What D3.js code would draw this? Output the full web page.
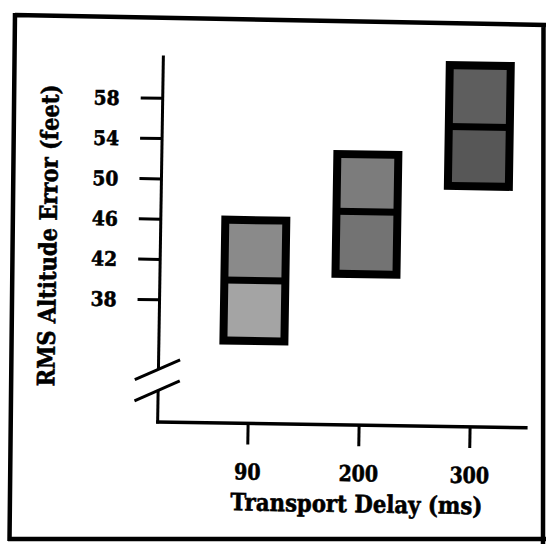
<!DOCTYPE html>
<html>
<head>
<meta charset="utf-8">
<script src="https://cdn.jsdelivr.net/npm/d3@7"></script>
<style>
  html, body { margin: 0; padding: 0; background: #fff; }
  svg { display: block; }
</style>
</head>
<body>
<svg id="chart" width="546" height="544"></svg>
<script>
// ---- data ----
const delays = ["90", "200", "300"];
const boxLow = [34.0, 40.8, 49.7];
const boxMid = [40.0, 47.0, 55.6];
const boxHigh = [46.0, 52.7, 61.7];
const yTicks = [38, 42, 46, 50, 54, 58];
const yAxisExtent = [25.8, 62.2];
const yBreak = [28.9, 31.0];
const xTitle = "Transport Delay (ms)";
const yTitle = "RMS Altitude Error (feet)";

// ---- styles ----
const upperShade = ["#8a8a8a", "#7c7c7c", "#5e5e5e"];
const lowerShade = ["#a4a4a4", "#737373", "#575757"];
const serif = "'DejaVu Serif', 'Liberation Serif', serif";

const svg = d3.select("#chart");

// scanned frame (slightly skewed)
svg.append("path")
  .attr("d", "M15,15 L546,25 M15,13 L9.5,541 M8,539 L546,539 M543.5,24 L543,544")
  .attr("fill", "none").attr("stroke", "#000").attr("stroke-width", 4.5);

const g = svg.append("g").attr("transform", "rotate(0.9 273 272)");

const y = d3.scaleLinear().domain([38, 58]).range([301, 99.6]);
const x = d3.scalePoint().domain(delays).range([250, 472]);
const axisX = 160;
const boxShift = 5;
const boxW = 61;

function heavy(sel, size) {
  sel.attr("fill", "#000").attr("stroke", "#000").attr("stroke-width", 0.6)
    .style("font-family", serif).style("font-weight", "bold").style("font-size", size + "px");
}

// boxes
const data = delays.map((d, i) => ({ d, lo: boxLow[i], mid: boxMid[i], hi: boxHigh[i], i }));
const boxes = g.selectAll("g.box").data(data).enter().append("g").attr("class", "box");
boxes.append("rect")
  .attr("x", d => x(d.d) + boxShift - boxW / 2).attr("width", boxW)
  .attr("y", d => y(d.hi)).attr("height", d => y(d.mid) - y(d.hi))
  .attr("fill", d => upperShade[d.i]);
boxes.append("rect")
  .attr("x", d => x(d.d) + boxShift - boxW / 2).attr("width", boxW)
  .attr("y", d => y(d.mid)).attr("height", d => y(d.lo) - y(d.mid))
  .attr("fill", d => lowerShade[d.i]);
boxes.append("rect")
  .attr("x", d => x(d.d) + boxShift - boxW / 2).attr("width", boxW)
  .attr("y", d => y(d.hi)).attr("height", d => y(d.lo) - y(d.hi))
  .attr("fill", "none").attr("stroke", "#000").attr("stroke-width", 8);
boxes.append("line")
  .attr("x1", d => x(d.d) + boxShift - boxW / 2).attr("x2", d => x(d.d) + boxShift + boxW / 2)
  .attr("y1", d => y(d.mid)).attr("y2", d => y(d.mid))
  .attr("stroke", "#000").attr("stroke-width", 7);

// y axis with break
g.append("line").attr("x1", axisX).attr("x2", axisX)
  .attr("y1", y(yAxisExtent[1])).attr("y2", y(yBreak[1]))
  .attr("stroke", "#000").attr("stroke-width", 3);
g.append("line").attr("x1", axisX).attr("x2", axisX)
  .attr("y1", y(yBreak[0])).attr("y2", y(yAxisExtent[0]) + 1.5)
  .attr("stroke", "#000").attr("stroke-width", 3);
g.selectAll("line.brk").data(yBreak).enter().append("line").attr("class", "brk")
  .attr("x1", axisX - 23.5).attr("y1", b => y(b) + 10.3)
  .attr("x2", axisX + 21.5).attr("y2", b => y(b) - 10.2)
  .attr("stroke", "#000").attr("stroke-width", 3);

const yAx = g.append("g").attr("transform", `translate(${axisX},0)`)
  .call(d3.axisLeft(y).tickValues(yTicks).tickSize(22).tickPadding(21).tickFormat(d3.format("d")));
yAx.select(".domain").remove();
yAx.selectAll(".tick line").attr("stroke", "#000").attr("stroke-width", 3);
yAx.selectAll(".tick text").call(heavy, 20)
  .attr("textLength", 26).attr("lengthAdjust", "spacingAndGlyphs")
  .attr("dy", "0.36em");

// x axis
const xAxisY = y(yAxisExtent[0]);
g.append("line").attr("x1", axisX - 1.5).attr("x2", 530)
  .attr("y1", xAxisY).attr("y2", xAxisY)
  .attr("stroke", "#000").attr("stroke-width", 3.5);
const xAx = g.append("g").attr("transform", `translate(0,${xAxisY})`)
  .call(d3.axisBottom(x).tickSize(21));
xAx.select(".domain").remove();
xAx.selectAll(".tick line").attr("stroke", "#000").attr("stroke-width", 3);
xAx.selectAll(".tick text").call(heavy, 22)
  .attr("textLength", d => d.length * 13.2).attr("lengthAdjust", "spacingAndGlyphs")
  .attr("y", 56).attr("dy", 0);

// titles
g.append("text").text(xTitle)
  .attr("x", 360).attr("y", 511)
  .attr("text-anchor", "middle")
  .attr("textLength", 252).attr("lengthAdjust", "spacingAndGlyphs")
  .call(heavy, 24);
g.append("text").text(yTitle)
  .attr("transform", "translate(56,239) rotate(-90)")
  .attr("text-anchor", "middle")
  .attr("textLength", 302).attr("lengthAdjust", "spacingAndGlyphs")
  .call(heavy, 24);
</script>
</body>
</html>
